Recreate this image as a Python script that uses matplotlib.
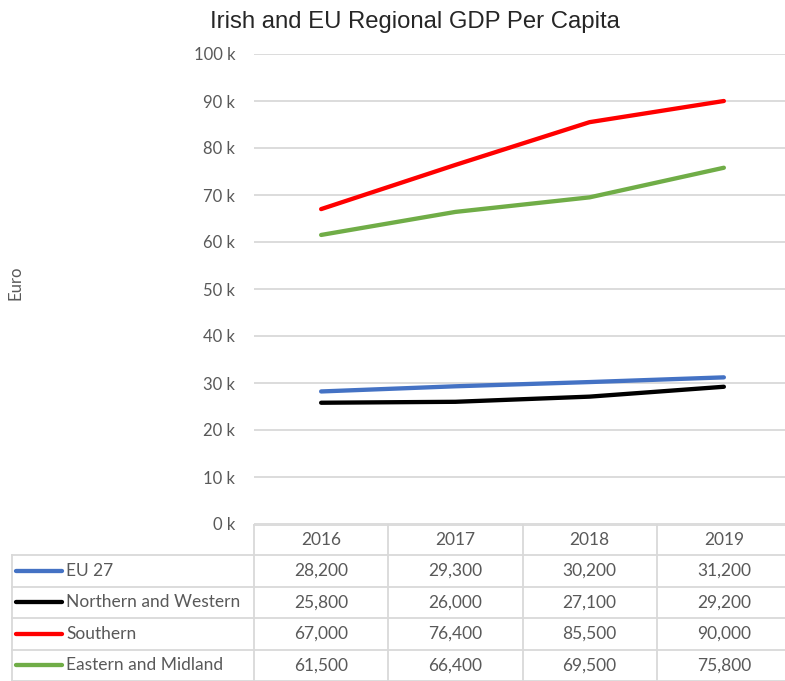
import matplotlib
matplotlib.use("Agg")
import matplotlib.pyplot as plt
from matplotlib.ticker import FuncFormatter

years = ["2016", "2017", "2018", "2019"]
series_names = ["EU 27", "Northern and Western", "Southern", "Eastern and Midland"]
eu27 = [28200, 29300, 30200, 31200]
northern_western = [25800, 26000, 27100, 29200]
southern = [67000, 76400, 85500, 90000]
eastern_midland = [61500, 66400, 69500, 75800]
series_values = [eu27, northern_western, southern, eastern_midland]
colors = ["#4472C4", "#000000", "#FF0000", "#70AD47"]
yticks = list(range(0, 100001, 10000))

W, H = 785, 681
fig = plt.figure(figsize=(W / 100, H / 100), dpi=100)
grid_c = "#D9D9D9"
text_c = "#595959"
tfont = "Lato"
fs = 12.5

# main plot
px_l, px_r, px_top, px_bot = 254, 791, 54, 524
ax = fig.add_axes([px_l / W, (H - px_bot) / H, (px_r - px_l) / W, (px_bot - px_top) / H])
x = list(range(len(years)))
for vals, c in zip(series_values, colors):
    ax.plot(x, vals, color=c, lw=3.1, solid_capstyle="round", zorder=3)
ax.set_xlim(-0.5, len(years) - 0.5)
ax.set_ylim(0, 100000)
ax.set_yticks(yticks)
ax.yaxis.set_major_formatter(FuncFormatter(lambda v, p: f"{int(v/1000)} k"))
ax.set_xticks([])
ax.grid(axis="y", color=grid_c, lw=1.3)
ax.set_axisbelow(True)
for s in ax.spines.values():
    s.set_visible(False)
ax.tick_params(axis="y", length=0, pad=13.5, labelsize=12, labelcolor=text_c)
for t in ax.get_yticklabels():
    t.set_fontfamily(tfont)
ax.set_ylabel("Euro", fontsize=12, color=text_c, fontfamily=tfont)
ax.yaxis.set_label_coords((23 - px_l) / (px_r - px_l), (px_bot - 283) / (px_bot - px_top))

fig.text(415 / W, 1 - 22 / H, "Irish and EU Regional GDP Per Capita",
         ha="center", va="center", fontsize=17.2, color="#262626", fontfamily="Liberation Sans")

# data table
unit = (px_r - px_l) / len(years)
x_left = -0.5 - (px_l - 12) / unit
tab_top = 525
rowh = 31.5
tax = fig.add_axes([12 / W, 0, (px_r - 12) / W, (H - tab_top) / H])
tax.set_xlim(x_left, len(years) - 0.5)
nrows = len(series_names)
hdr = 30 / rowh
ybot = hdr + nrows
tax.set_ylim((H - tab_top) / rowh, 0)
tax.axis("off")
lw_t = 1.3
tax.plot([-0.5, len(years) - 0.5], [0, 0], color=grid_c, lw=lw_t, clip_on=False)
for i in range(nrows + 1):
    tax.plot([x_left, len(years) - 0.5], [hdr + i, hdr + i], color=grid_c, lw=lw_t, clip_on=False)
for j in range(len(years) + 1):
    tax.plot([j - 0.5, j - 0.5], [0, ybot], color=grid_c, lw=lw_t, clip_on=False)
tax.plot([x_left, x_left], [hdr, ybot], color=grid_c, lw=lw_t, clip_on=False)

for j, yr in enumerate(years):
    tax.text(j, hdr / 2, yr, ha="center", va="center", fontsize=fs, color=text_c, fontfamily=tfont)
for i, (name, vals, c) in enumerate(zip(series_names, series_values, colors)):
    yc = hdr + i + 0.5
    tax.plot([x_left + 4 / unit, x_left + 50 / unit], [yc, yc], color=c, lw=3.1, solid_capstyle="round")
    tax.text(x_left + 54 / unit, yc, name, ha="left", va="center", fontsize=fs, color=text_c, fontfamily=tfont)
    for j, v in enumerate(vals):
        tax.text(j, yc, f"{v:,}", ha="center", va="center", fontsize=fs, color=text_c, fontfamily=tfont)

fig.savefig("out.png", dpi=100)
